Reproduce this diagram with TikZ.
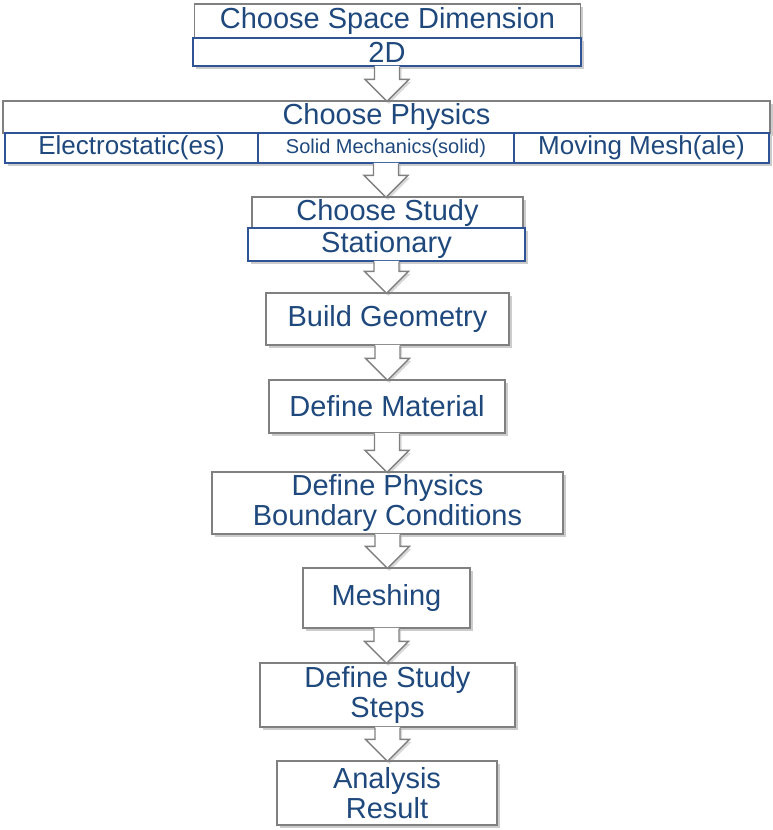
\documentclass[tikz,border=0pt]{standalone}
\usepackage{fontspec}
\setmainfont{Liberation Sans}
\usetikzlibrary{shadows,calc}
\definecolor{txtblue}{RGB}{31,73,125}
\definecolor{boxgray}{RGB}{128,128,128}
\definecolor{boxblue}{RGB}{47,84,150}
% block arrow from the bottom of one box to the top of the next
\newcommand{\flowarrow}[2]{%
  \fill[white,drop shadow={opacity=0.3,shadow xshift=2pt,shadow yshift=-2.5pt}]
    let \p1=(#1.south), \p2=(#2.north) in
    (\x1-12.5pt,\y1+0.7pt) -- (\x1-12.5pt,\y2+21pt) -- (\x1-22pt,\y2+21pt) -- (\x1,\y2-1pt)
    -- (\x1+22pt,\y2+21pt) -- (\x1+12.5pt,\y2+21pt) -- (\x1+12.5pt,\y1+0.7pt) -- cycle;
  \draw[arrowline] let \p1=(#1.south), \p2=(#2.north) in
    (\x1-12.5pt,\y1) -- (\x1-12.5pt,\y2+21pt) -- (\x1-22pt,\y2+21pt) -- (\x1,\y2-1pt)
    -- (\x1+22pt,\y2+21pt) -- (\x1+12.5pt,\y2+21pt) -- (\x1+12.5pt,\y1);
}
\begin{document}
\begin{tikzpicture}[x=1pt,y=-1pt,
    box/.style={draw=boxgray,fill=white,line width=1.3pt,inner sep=0pt,align=center,
      text=txtblue,font=\fontsize{29}{30}\selectfont,
      drop shadow={opacity=0.4,shadow xshift=2.5pt,shadow yshift=-3pt}},
    subbox/.style={box,draw=boxblue},
    arrowline/.style={boxgray,line width=1.3pt,line join=miter}]
  %\draw[ultra thin,gray!20] (0,0) grid[step=50] (772,830);
  \useasboundingbox (0,0) rectangle (772,830);
  \node[box,minimum width=386pt,minimum height=34pt] (dim) at (387.5,21) {Choose Space Dimension};
  \node[subbox,minimum width=388pt,minimum height=28pt] (twod) at (387,52) {2D};
  \node[box,minimum width=767pt,minimum height=32pt] (phys) at (386.5,117) {Choose Physics};
  \node[subbox,minimum width=253pt,minimum height=30pt,font=\fontsize{26}{28}\selectfont] (es) at (131.5,148) {Electrostatic(es)};
  \node[subbox,minimum width=256pt,minimum height=30pt,font=\fontsize{20}{22}\selectfont] (solid) at (386,148) {Solid Mechanics(solid)};
  \node[subbox,minimum width=255pt,minimum height=30pt,font=\fontsize{26}{28}\selectfont] (ale) at (641.5,148) {Moving Mesh(ale)};
  \node[box,minimum width=271pt,minimum height=31pt] (study) at (387.5,212.5) {Choose Study};
  \node[subbox,minimum width=277pt,minimum height=33pt] (stat) at (386.5,244.5) {Stationary};
  \node[box,minimum width=243pt,minimum height=52pt] (geo) at (387.5,319) {Build Geometry};
  \node[box,minimum width=236pt,minimum height=53pt] (mat) at (387,406.5) {Define Material};
  \node[box,minimum width=351pt,minimum height=62pt] (bc) at (387.5,503) {Define Physics\\Boundary Conditions};
  \node[box,minimum width=167pt,minimum height=60pt] (mesh) at (386.5,598) {Meshing};
  \node[box,minimum width=255pt,minimum height=64pt] (steps) at (387.5,695) {Define Study\\Steps};
  \node[box,minimum width=220pt,minimum height=64pt] (res) at (387,793) {Analysis\\Result};
  \flowarrow{twod}{phys}
  \flowarrow{solid}{study}
  \flowarrow{stat}{geo}
  \flowarrow{geo}{mat}
  \flowarrow{mat}{bc}
  \flowarrow{bc}{mesh}
  \flowarrow{mesh}{steps}
  \flowarrow{steps}{res}
\end{tikzpicture}
\end{document}
